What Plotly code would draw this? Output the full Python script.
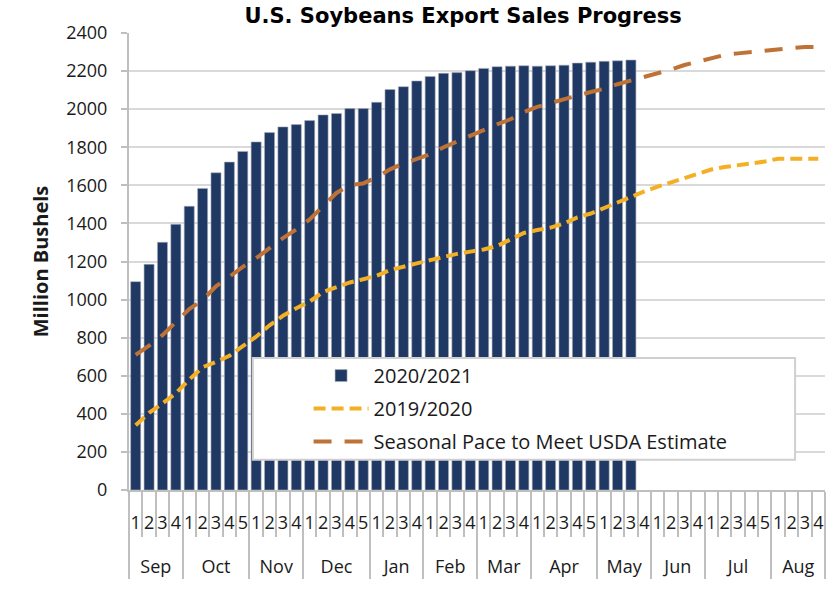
import plotly.graph_objects as go

# ---- data ----
months = ["Sep", "Oct", "Nov", "Dec", "Jan", "Feb", "Mar", "Apr", "May", "Jun", "Jul", "Aug"]
weeks_per_month = [4, 5, 4, 5, 4, 4, 4, 5, 4, 4, 5, 4]

sales_2020_2021 = [1094, 1185, 1301, 1395, 1490, 1584, 1666, 1722, 1778, 1828,
                   1877, 1907, 1919, 1940, 1970, 1977, 2003, 2003, 2036, 2103,
                   2118, 2148, 2172, 2188, 2192, 2202, 2214, 2223, 2226, 2228,
                   2226, 2228, 2231, 2242, 2247, 2251, 2254, 2258]

sales_2019_2020 = [340, 405, 455, 508, 580, 645, 672, 705, 755, 805,
                   865, 915, 955, 990, 1040, 1066, 1090, 1107, 1125, 1155,
                   1170, 1190, 1207, 1225, 1240, 1252, 1263, 1281, 1315, 1350,
                   1365, 1378, 1400, 1432, 1452, 1482, 1510, 1542, 1568, 1593,
                   1615, 1635, 1658, 1683, 1696, 1705, 1712, 1725, 1740, 1742,
                   1739, 1739]

pace_usda = [710, 758, 813, 883, 950, 998, 1070, 1120, 1172, 1217,
             1270, 1323, 1369, 1421, 1491, 1560, 1602, 1610, 1642, 1684,
             1714, 1738, 1763, 1800, 1831, 1858, 1893, 1920, 1947, 1985,
             2012, 2033, 2052, 2072, 2090, 2107, 2131, 2150, 2170, 2188,
             2208, 2232, 2250, 2271, 2285, 2293, 2301, 2310, 2315, 2321,
             2326, 2326]

# ---- categories (month label set one line lower, below the week numbers) ----
LBL = "<span style='font-size:18px'>{}</span>"
x_month = ["<br>" + LBL.format(m) for m, n in zip(months, weeks_per_month) for _ in range(n)]
x_week = [LBL.format(i + 1) for n in weeks_per_month for i in range(n)]

FONT = "Open Sans"
GRID = "#D9D9D9"
AXIS = "#BFBFBF"
NAVY = "#1F3864"
YELLOW = "#F4B024"
BROWN = "#BE7236"
TXT = "#1a1a1a"

fig = go.Figure()
n_bar = len(sales_2020_2021)
fig.add_trace(go.Bar(
    x=[x_month[:n_bar], x_week[:n_bar]], y=sales_2020_2021, name="2020/2021",
    legendgroup="a",
    marker=dict(color=NAVY, line=dict(color="#A9AEBB", width=0.6)),
))
fig.add_trace(go.Scatter(
    x=[x_month, x_week], y=sales_2019_2020, name="2019/2020", mode="lines",
    legendgroup="b",
    line=dict(color=YELLOW, width=4, dash="12px,6px"),
))
fig.add_trace(go.Scatter(
    x=[x_month, x_week], y=pace_usda, name="Seasonal Pace to Meet USDA Estimate", mode="lines",
    legendgroup="c",
    line=dict(color=BROWN, width=4, dash="18px,13px"),
))

# legend box (white panel with light border)
fig.add_shape(type="rect", xref="paper", yref="paper",
              x0=0.178, x1=0.957, y0=0.066, y1=0.289,
              fillcolor="white", line=dict(color="#D0D0D0", width=2), layer="above")

fig.update_layout(
    width=840, height=600,
    margin=dict(l=129, r=15, t=33, b=110),
    paper_bgcolor="white", plot_bgcolor="white",
    font=dict(family=FONT, size=18, color=TXT),
    title=dict(text="<b>U.S. Soybeans Export Sales Progress</b>", x=0.48, xref="paper",
               xanchor="center", y=1 - 16 / 600, yref="container", yanchor="middle",
               font=dict(family="DejaVu Sans", size=21, color="black")),
    bargap=0.25,
    showlegend=True,
    legend=dict(x=0.258, y=0.293, xanchor="left", yanchor="top",
                bgcolor="rgba(0,0,0,0)", borderwidth=0, itemwidth=55,
                traceorder="grouped", tracegroupgap=4,
                font=dict(family=FONT, size=20, color=TXT)),
    yaxis=dict(range=[0, 2400], dtick=200, showgrid=True, gridcolor=GRID, gridwidth=1.5,
               showline=True, linecolor=AXIS, linewidth=2, ticks="outside", ticklen=6,
               tickcolor=AXIS, tickwidth=1.5, zeroline=False, ticklabelstandoff=10,
               tickfont=dict(family=FONT, size=18, color=TXT),
               title=dict(text="<b>Million Bushels</b>", standoff=12,
                          font=dict(family=FONT, size=20, color=TXT))),
    xaxis=dict(type="multicategory", range=[-0.5, 51.5], showgrid=False,
               tickmode="linear", dtick=1, tickangle=0,
               showline=True, linecolor=AXIS, linewidth=2,
               ticks="outside", tickson="boundaries", ticklen=45, tickcolor=AXIS, tickwidth=2,
               ticklabelstandoff=11,
               showdividers=True, dividercolor=AXIS, dividerwidth=2,
               tickfont=dict(family=FONT, size=22, color=TXT)),
)

fig.write_html("out.html", config={"displayModeBar": False},
               post_script="document.body.style.margin='0';")
